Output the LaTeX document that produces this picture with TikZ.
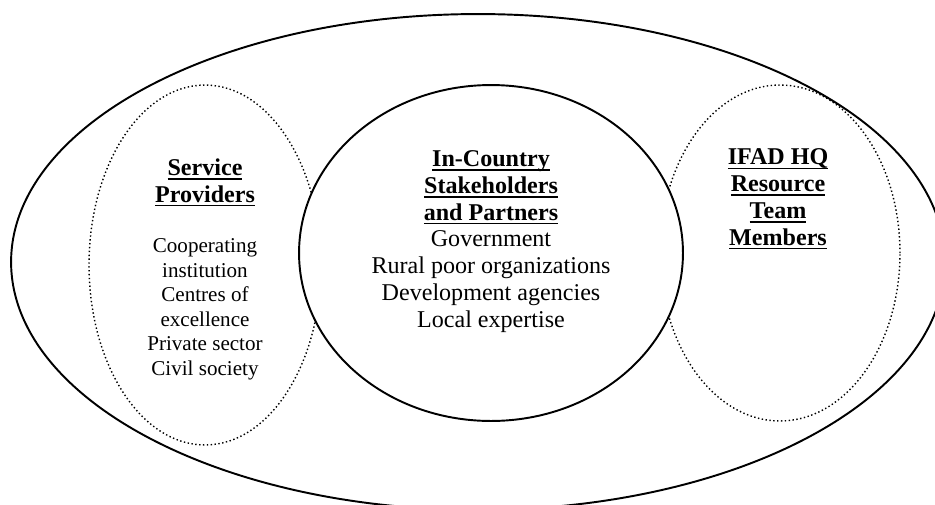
\documentclass[tikz,border=0pt]{standalone}
\usepackage{fontspec}
\setmainfont{Liberation Serif}
\usetikzlibrary{shapes.geometric}

\newcommand{\hd}[1]{\setbox0\hbox{\bfseries #1}\rlap{\rule[-2.4pt]{\wd0}{0.9pt}}\box0}

\begin{document}
\begin{tikzpicture}[x=0.02cm, y=-0.02cm,
        solidoval/.style={ellipse, draw, line width=1.1pt, inner sep=0pt},
        dottedoval/.style={ellipse, draw, line width=0.8pt, dash pattern=on 0.8pt off 1.4pt, inner sep=0pt},
        txt/.style={align=center, inner sep=0pt, anchor=base, font=\fontsize{13.7}{15.2}\selectfont}]
    \useasboundingbox (0,0) rectangle (935,504);

    \node[solidoval, minimum width=18.68cm, minimum height=9.92cm] (world) at (478,262) {};
    \node[dottedoval, minimum width=4.64cm, minimum height=7.2cm] (prov) at (205,265) {};
    \node[dottedoval, minimum width=4.8cm, minimum height=6.72cm] (ifad) at (780,253) {};
    \node[solidoval, fill=white, minimum width=7.68cm, minimum height=6.72cm] (country) at (491,253) {};

    % base anchor sits on the last line
    \node[txt] (provtitle) at (205,202) {\hd{Service}\\\hd{Providers}};
    \node[txt, font=\fontsize{12}{13.9}\selectfont] (provlist) at (205,375) {Cooperating\\institution\\Centres of\\excellence\\Private sector\\Civil society};
    \node[txt] (countrytitle) at (491,327) {\hd{In-Country}\\\hd{Stakeholders}\\\hd{and Partners}\\Government\\Rural poor organizations\\Development agencies\\Local expertise};
    \node[txt] (ifadtitle) at (778,245) {\hd{IFAD HQ}\\\hd{Resource}\\\hd{Team}\\\hd{Members}};
\end{tikzpicture}
\end{document}
